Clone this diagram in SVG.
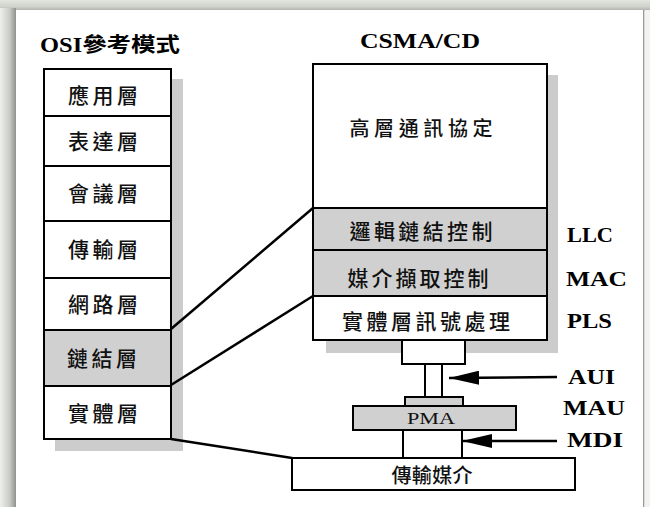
<svg xmlns="http://www.w3.org/2000/svg" width="650" height="507" viewBox="0 0 650 507">
<defs>
<linearGradient id="gl" x1="0" y1="0" x2="1" y2="0">
<stop offset="0" stop-color="#eef0ec"/><stop offset="0.6" stop-color="#c9ccc6"/><stop offset="1" stop-color="#8f918d"/>
</linearGradient>
<linearGradient id="gt" x1="0" y1="0" x2="0" y2="1">
<stop offset="0" stop-color="#e3e6df"/><stop offset="0.6" stop-color="#d0d3cc"/><stop offset="1" stop-color="#a9aca6"/>
</linearGradient>
<marker id="ah" viewBox="0 0 30 14" refX="30" refY="7" markerWidth="30" markerHeight="14" markerUnits="userSpaceOnUse" orient="auto">
<path d="M0,7 L30,0 L30,14 Z" fill="#000" transform="rotate(180 15 7)"/>
</marker>
<style>
.box{stroke:#000;stroke-width:2;fill:#fff}
.sh{fill:#cccccc}
.cj{font-family:"Noto Sans CJK TC","Noto Sans CJK SC",sans-serif;font-size:21px;font-weight:500;fill:#111;text-anchor:middle}
.lb{font-family:"Liberation Serif","DejaVu Serif",serif;font-weight:bold;font-size:21px;fill:#000}
.ttl{font-family:"Liberation Serif","Noto Sans CJK TC",serif;font-weight:bold;font-size:20px;fill:#000}
.ln{stroke:#000;stroke-width:2.5;fill:none}
</style>
</defs>
<g id="frame">
<rect x="0" y="0" width="650" height="507" fill="#e6e9e3"/>
<rect x="0" y="0" width="650" height="11" fill="url(#gt)"/>
<rect x="0" y="8" width="16" height="499" fill="url(#gl)"/>
<rect x="16" y="10" width="627" height="497" fill="#fff"/>
<rect x="643" y="10" width="1.5" height="497" fill="#9a9a9a"/>
<rect x="644.5" y="10" width="5.5" height="497" fill="#f3f4f2"/>
</g>
<g id="titles">
<text class="ttl" x="40" y="52" textLength="140" lengthAdjust="spacingAndGlyphs">OSI<tspan font-family="Noto Sans CJK TC,sans-serif">參考模式</tspan></text>
<text class="ttl" x="360" y="48" textLength="120" lengthAdjust="spacingAndGlyphs">CSMA/CD</text>
</g>
<g id="osi-stack">
<rect class="sh" x="171" y="79" width="12" height="372"/>
<rect class="sh" x="55" y="439" width="128" height="12"/>
<g id="osi-app"><rect class="box" x="44" y="69" width="127" height="47"/><text class="cj" x="103" y="103" textLength="70">應用層</text></g>
<g id="osi-pres"><rect class="box" x="44" y="116" width="127" height="50"/><text class="cj" x="103" y="149" textLength="70">表達層</text></g>
<g id="osi-sess"><rect class="box" x="44" y="166" width="127" height="55"/><text class="cj" x="103" y="201" textLength="70">會議層</text></g>
<g id="osi-trans"><rect class="box" x="44" y="221" width="127" height="57"/><text class="cj" x="103" y="257" textLength="70">傳輸層</text></g>
<g id="osi-net"><rect class="box" x="44" y="278" width="127" height="52"/><text class="cj" x="103" y="312" textLength="70">網路層</text></g>
<g id="osi-link"><rect class="box" x="44" y="330" width="127" height="56" style="fill:#d0d0d0"/><text class="cj" x="102" y="366" textLength="70">鏈結層</text></g>
<g id="osi-phy"><rect class="box" x="44" y="386" width="127" height="53"/><text class="cj" x="103" y="421" textLength="70">實體層</text></g>
</g>
<g id="csma-stack">
<rect class="sh" x="547" y="75" width="11" height="278"/>
<rect class="sh" x="326" y="340" width="232" height="13"/>
<g id="upper"><rect class="box" x="313" y="64" width="234" height="144"/><text class="cj" x="421" y="136" textLength="143" style="font-size:20px">高層通訊協定</text></g>
<g id="llc"><rect class="box" x="313" y="208" width="234" height="42" style="fill:#d0d0d0"/><text class="cj" x="421" y="239" textLength="143">邏輯鏈結控制</text></g>
<g id="mac"><rect class="box" x="313" y="250" width="234" height="46" style="fill:#d0d0d0"/><text class="cj" x="418" y="286" textLength="141">媒介擷取控制</text></g>
<g id="pls"><rect class="box" x="313" y="296" width="234" height="44"/><text class="cj" x="426" y="329" textLength="168">實體層訊號處理</text></g>
</g>
<g id="phys">
<g id="aui-top"><rect class="box" x="402" y="340" width="63" height="24"/></g>
<g id="aui-tube"><rect class="box" x="425" y="364" width="17" height="33"/></g>
<g id="plate"><rect class="box" x="405" y="397" width="58" height="9" style="fill:#d0d0d0"/></g>
<g id="pma"><rect class="box" x="353" y="406" width="163" height="24" style="fill:#d0d0d0"/><text x="407" y="424" font-family="Liberation Serif,serif" font-size="17" fill="#111" textLength="48" lengthAdjust="spacingAndGlyphs">PMA</text></g>
<g id="mdi-box"><rect class="box" x="403" y="430" width="59" height="28"/></g>
<g id="medium"><rect class="box" x="292" y="458" width="283" height="32"/><text class="cj" x="432" y="483" textLength="81" style="font-size:20px">傳輸媒介</text></g>
</g>
<g id="labels">
<text class="lb" x="567" y="242" textLength="46" lengthAdjust="spacingAndGlyphs">LLC</text>
<text class="lb" x="566" y="286" textLength="61" lengthAdjust="spacingAndGlyphs">MAC</text>
<text class="lb" x="567" y="328" textLength="45" lengthAdjust="spacingAndGlyphs">PLS</text>
<text class="lb" x="568" y="384" textLength="47" lengthAdjust="spacingAndGlyphs">AUI</text>
<text class="lb" x="563" y="415" textLength="62" lengthAdjust="spacingAndGlyphs">MAU</text>
<text class="lb" x="567" y="447" textLength="56" lengthAdjust="spacingAndGlyphs">MDI</text>
</g>
<g id="connectors">
<path class="ln" d="M171,329 L313,208"/>
<path class="ln" d="M171,385 L313,296"/>
<path class="ln" d="M171,439 L292,458"/>
<path class="ln" d="M557,377 L449,378" marker-end="url(#ah)"/>
<path class="ln" d="M557,441 L462,441" marker-end="url(#ah)"/>
</g>
</svg>
